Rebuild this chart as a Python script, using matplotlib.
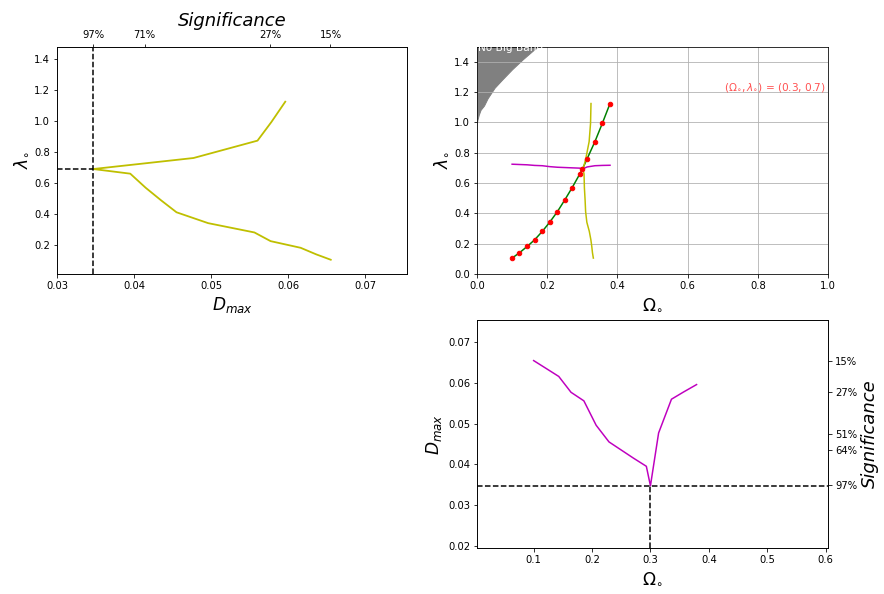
import numpy as np
import matplotlib
matplotlib.use('Agg')
import matplotlib.pyplot as plt

# Sampled points along the degeneracy curve (Omega_o, lambda_o) and the KS distance
omega = [0.1, 0.121, 0.143, 0.164, 0.186, 0.207, 0.229, 0.25, 0.271, 0.293,
         0.3, 0.314, 0.336, 0.357, 0.379]
lam = [0.105, 0.14, 0.182, 0.225, 0.281, 0.341, 0.411, 0.488, 0.569, 0.66,
       0.69, 0.761, 0.873, 0.993, 1.124]
dmax = [0.0655, 0.0636, 0.0616, 0.0577, 0.0556, 0.0496, 0.0455, 0.0435, 0.0415, 0.0395,
        0.0347, 0.0477, 0.0560, 0.0578, 0.0596]

# Dmax curves drawn in the Omega-lambda plane
yellow_omega = [0.3315, 0.329, 0.327, 0.3245, 0.32, 0.313, 0.3095, 0.308, 0.306, 0.305,
                0.302, 0.31, 0.3195, 0.3235, 0.3248]
magenta_lam = [0.724, 0.722, 0.72, 0.716, 0.714, 0.708, 0.704, 0.702, 0.7, 0.698,
               0.692, 0.706, 0.714, 0.716, 0.717]

# No Big Bang boundary
nbb_omega = [0.0, 0.001, 0.002, 0.005, 0.01, 0.02, 0.03, 0.05, 0.07, 0.1, 0.13, 0.16, 0.18]
nbb_lam = [1.0, 1.016, 1.024, 1.05, 1.082, 1.111, 1.158, 1.228, 1.278, 1.35, 1.415, 1.475, 1.51]

# Significance ticks
sig_top_pos = [0.03467, 0.04137, 0.05763, 0.06546]
sig_top_lab = ['97%', '71%', '27%', '15%']
sig_right_pos = [0.0655, 0.0577, 0.0475, 0.0434, 0.0348]
sig_right_lab = ['15%', '27%', '51%', '64%', '97%']

om_best, lam_best, d_best = 0.3, 0.69, 0.0347

LBL = 17

fig = plt.figure(figsize=(884 / 72, 594 / 72), dpi=72)

# ==============================
# Top left: Dmax vs lambda
# ==============================
ax1 = fig.add_axes([0.0645, 0.5387, 0.396, 0.383])
ax1.plot(dmax, lam, 'y-', lw=1.8)
ax1.axvline(d_best, color='k', ls='--', lw=1.5)
ax1.plot([0.03, d_best], [lam_best, lam_best], 'k--', lw=1.5)
ax1.set_xlim(0.03, 0.0754)
ax1.set_ylim(0.013, 1.48)
ax1.set_xticks([0.03, 0.04, 0.05, 0.06, 0.07])
ax1.set_yticks([0.2, 0.4, 0.6, 0.8, 1.0, 1.2, 1.4])
ax1.set_xlabel(r'$D_{max}$', fontsize=LBL)
ax1.set_ylabel(r'$\lambda_{\circ}$', fontsize=LBL)
ax1t = ax1.twiny()
ax1t.set_xlim(ax1.get_xlim())
ax1t.set_xticks(sig_top_pos)
ax1t.set_xticklabels(sig_top_lab)
ax1t.set_xlabel('Significance', fontsize=18, style='italic')

# ==============================
# Top right: Omega-lambda plane
# ==============================
ax2 = fig.add_axes([0.5396, 0.5387, 0.397, 0.383])
ax2.fill_between(nbb_omega, nbb_lam, 1.6, color='gray', zorder=1)
ax2.text(0.003, 1.472, 'No Big Bang', color='white', fontsize=10.5, clip_on=True)
ax2.plot(omega, lam, 'g-', lw=1.5, zorder=3)
ax2.plot(omega, lam, 'o', color='r', ms=4.5, mec='r', zorder=4)
ax2.plot(yellow_omega, lam, 'y-', lw=1.5, zorder=3)
ax2.plot(omega, magenta_lam, 'm-', lw=1.5, zorder=3)
ax2.text(0.995, 1.19, r'$(\Omega_{\circ}, \lambda_{\circ})$ = (0.3, 0.7)', color='#ff3333',
         ha='right', va='bottom', fontsize=10.5, alpha=0.85)
ax2.set_xlim(0, 1)
ax2.set_ylim(0, 1.5)
ax2.set_yticks([0.0, 0.2, 0.4, 0.6, 0.8, 1.0, 1.2, 1.4])
ax2.grid(True)
ax2.set_xlabel(r'$\Omega_{\circ}$', fontsize=LBL)
ax2.set_ylabel(r'$\lambda_{\circ}$', fontsize=LBL)

# ==============================
# Bottom right: Dmax vs Omega
# ==============================
ax3 = fig.add_axes([0.5396, 0.0774, 0.397, 0.384])
ax3.plot(omega, dmax, 'm-', lw=1.5)
ax3.axhline(d_best, color='k', ls='--', lw=1.5)
ax3.plot([om_best, om_best], [0.0194, d_best], 'k--', lw=1.5)
ax3.set_xlim(0.003, 0.604)
ax3.set_ylim(0.0194, 0.0755)
ax3.set_xticks([0.1, 0.2, 0.3, 0.4, 0.5, 0.6])
ax3.set_yticks([0.02, 0.03, 0.04, 0.05, 0.06, 0.07])
ax3.set_xlabel(r'$\Omega_{\circ}$', fontsize=LBL)
ax3.set_ylabel(r'$D_{max}$', fontsize=LBL)
ax3r = ax3.twinx()
ax3r.set_ylim(ax3.get_ylim())
ax3r.set_yticks(sig_right_pos)
ax3r.set_yticklabels(sig_right_lab)
ax3r.set_ylabel('Significance', fontsize=18, style='italic')

plt.savefig('out.png', dpi=72)
